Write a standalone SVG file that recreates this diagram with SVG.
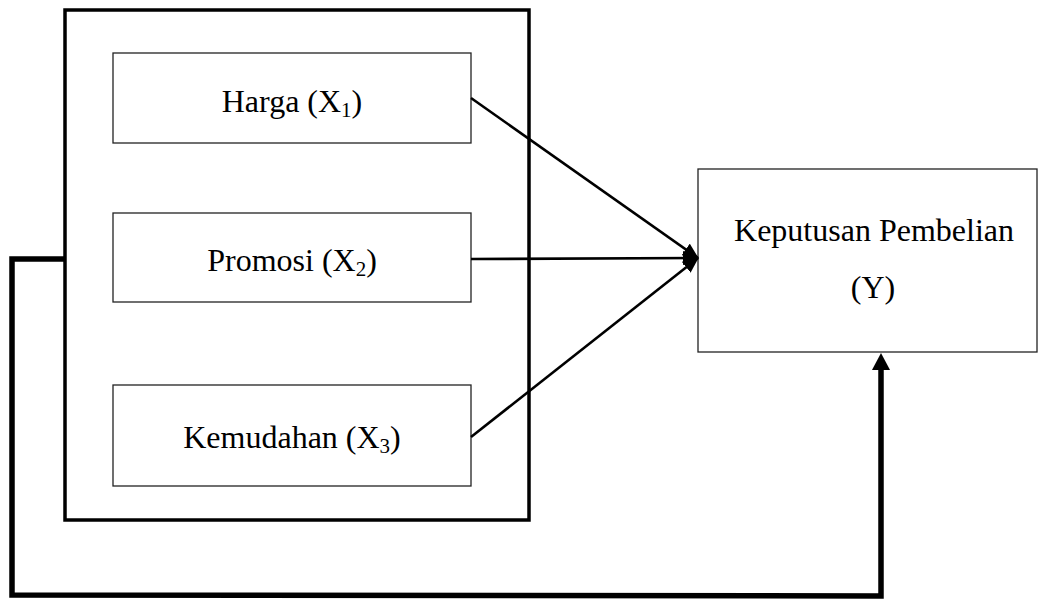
<svg xmlns="http://www.w3.org/2000/svg" width="1040" height="603" viewBox="0 0 1040 603">
<style>
.box{fill:#fff;stroke:#222;stroke-width:1.3}
.t{font-family:"Liberation Serif","Times New Roman",serif;font-size:32px;fill:#000;text-anchor:middle}
.sub{font-size:21px}
.arr{stroke:#000;stroke-width:2.6;fill:none}
</style>
<defs>
<marker id="ah" markerWidth="16" markerHeight="14" refX="15" refY="7" orient="auto" markerUnits="userSpaceOnUse" viewBox="0 0 16 14">
<path d="M0,0 L16,7 L0,14 Z" fill="#000"/>
</marker>
</defs>
<rect width="1040" height="603" fill="#fff"/>
<g id="group-x">
<rect x="65" y="10" width="464" height="510" fill="none" stroke="#000" stroke-width="3.5"/>
</g>
<g id="harga">
<rect class="box" x="113" y="53" width="358" height="90"/>
<text class="t" x="292" y="112">Harga (X<tspan class="sub" dy="5">1</tspan><tspan dy="-5">)</tspan></text>
</g>
<g id="promosi">
<rect class="box" x="113" y="213" width="358" height="89"/>
<text class="t" x="292" y="271">Promosi (X<tspan class="sub" dy="5">2</tspan><tspan dy="-5">)</tspan></text>
</g>
<g id="kemudahan">
<rect class="box" x="113" y="385" width="358" height="101"/>
<text class="t" x="292" y="448">Kemudahan (X<tspan class="sub" dy="5">3</tspan><tspan dy="-5">)</tspan></text>
</g>
<g id="keputusan">
<rect class="box" x="698" y="169" width="339" height="183"/>
<text class="t" x="874" y="241">Keputusan Pembelian</text>
<text class="t" x="873" y="298">(Y)</text>
</g>
<g id="connectors">
<line class="arr" x1="471" y1="98" x2="698" y2="258" marker-end="url(#ah)"/>
<line class="arr" x1="471" y1="259" x2="698" y2="258" marker-end="url(#ah)"/>
<line class="arr" x1="471" y1="437" x2="698" y2="258" marker-end="url(#ah)"/>
<path d="M65 259 L12 259 L12 595 L881 596 L881 368" fill="none" stroke="#000" stroke-width="5.5"/>
<polygon points="872,370 890,370 881,353" fill="#000"/>
</g>
</svg>
